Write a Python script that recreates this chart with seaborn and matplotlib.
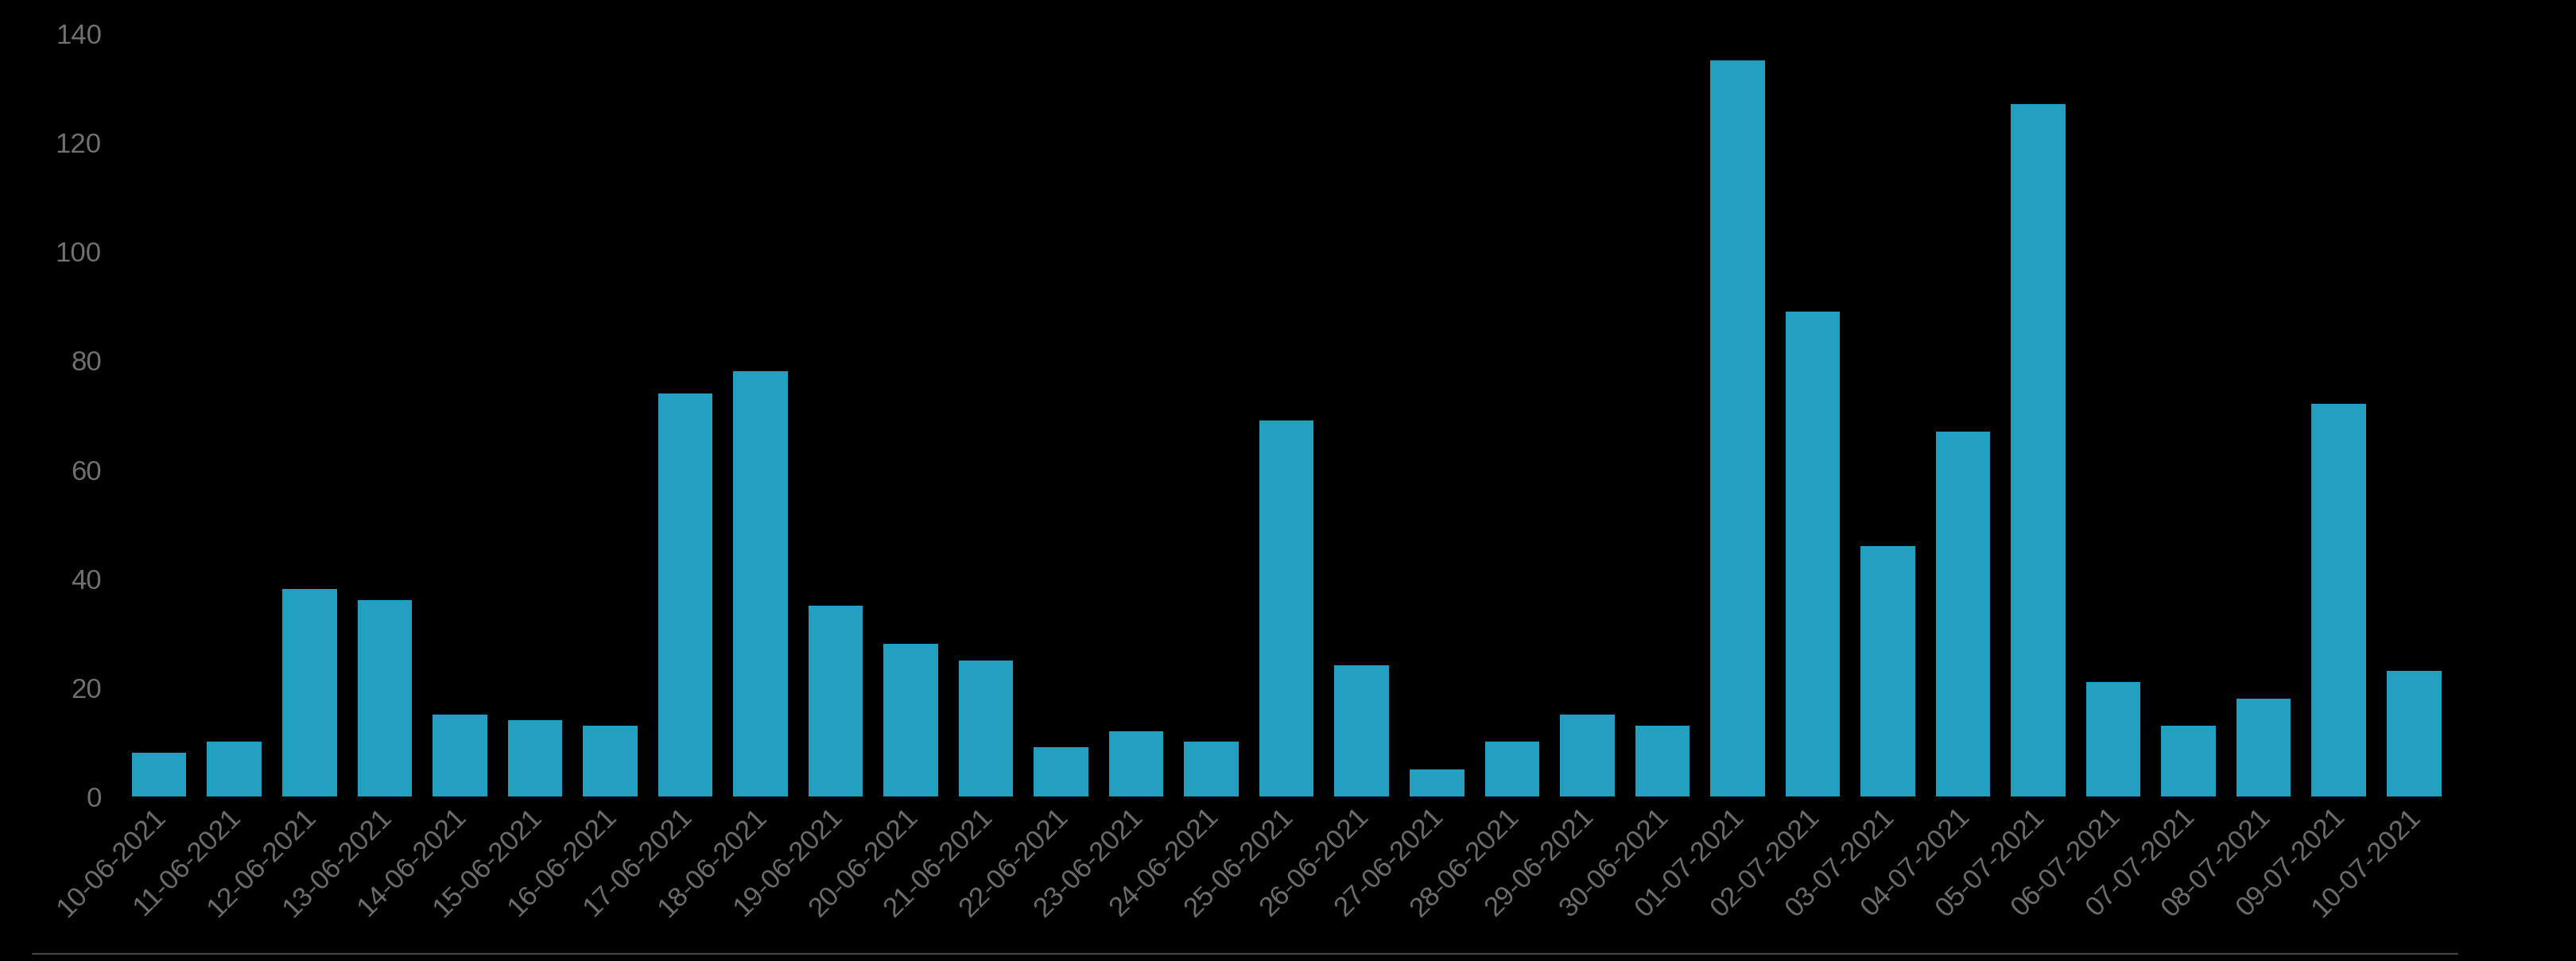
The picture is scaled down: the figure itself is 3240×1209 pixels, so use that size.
import matplotlib
matplotlib.use("Agg")
import matplotlib.pyplot as plt
import matplotlib.transforms as mtransforms
from matplotlib.lines import Line2D
import seaborn as sns
import pandas as pd

dates = ["10-06-2021", "11-06-2021", "12-06-2021", "13-06-2021", "14-06-2021",
         "15-06-2021", "16-06-2021", "17-06-2021", "18-06-2021", "19-06-2021",
         "20-06-2021", "21-06-2021", "22-06-2021", "23-06-2021", "24-06-2021",
         "25-06-2021", "26-06-2021", "27-06-2021", "28-06-2021", "29-06-2021",
         "30-06-2021", "01-07-2021", "02-07-2021", "03-07-2021", "04-07-2021",
         "05-07-2021", "06-07-2021", "07-07-2021", "08-07-2021", "09-07-2021",
         "10-07-2021"]
counts = [8, 10, 38, 36, 15, 14, 13, 74, 78, 35,
          28, 25, 9, 12, 10, 69, 24, 5, 10, 15,
          13, 135, 89, 46, 67, 127, 21, 13, 18, 72,
          23]
yticks = [0, 20, 40, 60, 80, 100, 120, 140]

df = pd.DataFrame({"date": dates, "count": counts})

sns.set_style("dark")
plt.rcParams["font.family"] = ["Liberation Sans", "DejaVu Sans"]

fig = plt.figure(figsize=(16.2, 6.045), dpi=200, facecolor="black")
ax = fig.add_axes([0.0472, 0.1712, 0.9045, 0.7941])
ax.set_facecolor("black")

sns.barplot(data=df, x="date", y="count", color="#239fc0", saturation=1,
            width=0.725, linewidth=0, edgecolor="none", ax=ax)

ax.set_ylim(0, 140)
ax.set_xlim(-0.5, len(dates) - 0.5)
ax.set_yticks(yticks)
ax.set_xlabel("")
ax.set_ylabel("")
ax.grid(False)
for s in ax.spines.values():
    s.set_visible(False)

grey = "#707070"
ax.tick_params(axis="both", length=0, colors=grey, labelsize=12.5)
ax.tick_params(axis="y", pad=9)
ax.tick_params(axis="x", pad=3)
shift = mtransforms.ScaledTranslation(-3 / 72, 0, fig.dpi_scale_trans)
for lab in ax.get_xticklabels():
    lab.set_rotation(45)
    lab.set_ha("right")
    lab.set_rotation_mode("anchor")
    lab.set_transform(lab.get_transform() + shift)

# thin line along the bottom of the figure
fig.add_artist(Line2D([41 / 3240, 3091 / 3240], [1 - 1200 / 1209, 1 - 1200 / 1209],
                      color="#444444", lw=0.8, transform=fig.transFigure))

fig.savefig("out.png", dpi=200, facecolor="black")
